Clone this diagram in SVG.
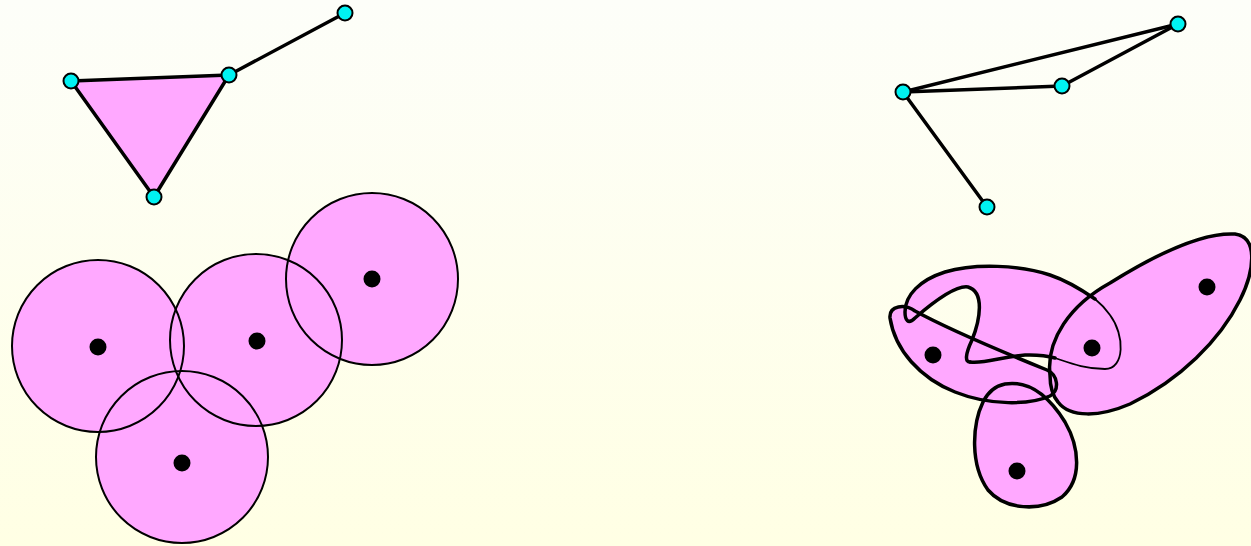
<svg xmlns="http://www.w3.org/2000/svg" width="1251" height="546" viewBox="0 0 1251 546">
<defs>
<linearGradient id="bg" x1="0" y1="0" x2="0" y2="1">
<stop offset="0" stop-color="#fdfef9"/>
<stop offset="1" stop-color="#ffffe4"/>
</linearGradient>
<style>
.pk{fill:#ffa8ff;stroke:none}
.ol{fill:none;stroke:#000;stroke-width:2}
.olt{fill:none;stroke:#000;stroke-width:3.5;stroke-linejoin:round;stroke-linecap:round}
.thin{fill:none;stroke:#000;stroke-width:1.8}
.dot{fill:#000}
.nd{fill:#00f2f2;stroke:#000;stroke-width:2}
.edge{stroke:#000;stroke-width:3.5;fill:none;stroke-linecap:round;stroke-linejoin:round}
</style>
</defs>
<rect width="1251" height="546" fill="url(#bg)"/>

<!-- Left: triangle graph -->
<g id="triangle">
<polygon points="71,81 229,75 154,197" class="pk"/>
</g>
<g id="connectors-left">
<polyline points="71,81 229,75 154,197 71,81" class="edge"/>
<line x1="229" y1="75" x2="345" y2="13" class="edge"/>
</g>
<g id="nodeL1"><circle cx="71" cy="81" r="7.5" class="nd"/></g>
<g id="nodeL2"><circle cx="229" cy="75" r="7.5" class="nd"/></g>
<g id="nodeL3"><circle cx="154" cy="197" r="7.5" class="nd"/></g>
<g id="nodeL4"><circle cx="345" cy="13" r="7.5" class="nd"/></g>

<!-- Left: discs -->
<g id="discs-fill">
<circle cx="98" cy="346" r="86" class="pk"/>
<circle cx="256" cy="340" r="86" class="pk"/>
<circle cx="372" cy="279" r="86" class="pk"/>
<circle cx="182" cy="457" r="86" class="pk"/>
</g>
<g id="disc1"><circle cx="98" cy="346" r="86" class="ol"/><circle cx="98" cy="347" r="8.5" class="dot"/></g>
<g id="disc2"><circle cx="256" cy="340" r="86" class="ol"/><circle cx="257" cy="341" r="8.5" class="dot"/></g>
<g id="disc3"><circle cx="372" cy="279" r="86" class="ol"/><circle cx="372" cy="279" r="8.5" class="dot"/></g>
<g id="disc4"><circle cx="182" cy="457" r="86" class="ol"/><circle cx="182" cy="463" r="8.5" class="dot"/></g>

<!-- Right: graph -->
<g id="connectors-right">
<line x1="903" y1="92" x2="1178" y2="24" class="edge"/>
<line x1="903" y1="92" x2="1062" y2="86" class="edge"/>
<line x1="1062" y1="86" x2="1178" y2="24" class="edge"/>
<line x1="903" y1="92" x2="987" y2="207" class="edge"/>
</g>
<g id="nodeR1"><circle cx="903" cy="92" r="7.5" class="nd"/></g>
<g id="nodeR2"><circle cx="1062" cy="86" r="7.5" class="nd"/></g>
<g id="nodeR3"><circle cx="1178" cy="24" r="7.5" class="nd"/></g>
<g id="nodeR4"><circle cx="987" cy="207" r="7.5" class="nd"/></g>

<!-- Right: blobs -->
<g id="blobs-fill">
<path class="pk" d="M1050,375 C1046,340 1070,305 1110,283 C1150,258 1200,232 1235,234 C1258,237 1255,270 1240,300 C1220,340 1180,380 1130,404 C1100,417 1070,418 1058,402 C1052,395 1050,385 1050,375 Z"/>
<path class="pk" d="M890,318 C889,305 905,304 915,311 C950,330 1010,355 1047,370 C1058,375 1060,390 1050,396 C1030,405 990,406 955,392 C920,378 895,350 890,318 Z"/>
<path class="pk" d="M1005,384 C1030,380 1050,398 1065,422 C1080,448 1082,480 1062,497 C1040,512 1005,510 988,490 C970,465 972,425 983,402 C988,392 995,386 1005,384 Z"/>
<path class="pk" d="M970,362 C985,364 1000,357 1025,355 C1055,354 1075,368 1105,369 C1125,369 1125,335 1110,315 C1095,295 1075,283 1050,275 C1020,265 975,263 945,272 C920,280 905,295 905,312 C905,320 908,325 915,318 C930,305 955,285 968,287 C985,292 980,320 972,340 C965,355 965,362 970,362 Z"/>
</g>
<g id="blob-right">
<path class="olt" d="M1050,375 C1046,340 1070,305 1110,283 C1150,258 1200,232 1235,234 C1258,237 1255,270 1240,300 C1220,340 1180,380 1130,404 C1100,417 1070,418 1058,402 C1052,395 1050,385 1050,375 Z"/>
<circle cx="1207" cy="287" r="8.5" class="dot"/>
</g>
<g id="blob-left">
<path class="olt" d="M890,318 C889,305 905,304 915,311 C950,330 1010,355 1047,370 C1058,375 1060,390 1050,396 C1030,405 990,406 955,392 C920,378 895,350 890,318 Z"/>
<circle cx="933" cy="355" r="8.5" class="dot"/>
</g>
<g id="blob-bottom">
<path class="olt" d="M1005,384 C1030,380 1050,398 1065,422 C1080,448 1082,480 1062,497 C1040,512 1005,510 988,490 C970,465 972,425 983,402 C988,392 995,386 1005,384 Z"/>
<circle cx="1017" cy="471" r="8.5" class="dot"/>
</g>
<g id="blob-middle">
<path class="olt" d="M970,362 C985,364 1000,357 1025,355 C1040,354.5 1048,356 1055,358"/>
<path class="thin" d="M1055,358 C1070,363 1085,369 1105,369 C1125,369 1125,335 1110,315 C1105,308 1100,303 1095,299"/>
<path class="olt" d="M1095,299 C1082,290 1068,281 1050,275 C1020,265 975,263 945,272 C920,280 905,295 905,312 C905,320 908,325 915,318 C930,305 955,285 968,287 C985,292 980,320 972,340 C965,355 965,362 970,362"/>
<circle cx="1092" cy="348" r="8.5" class="dot"/>
</g>
</svg>
